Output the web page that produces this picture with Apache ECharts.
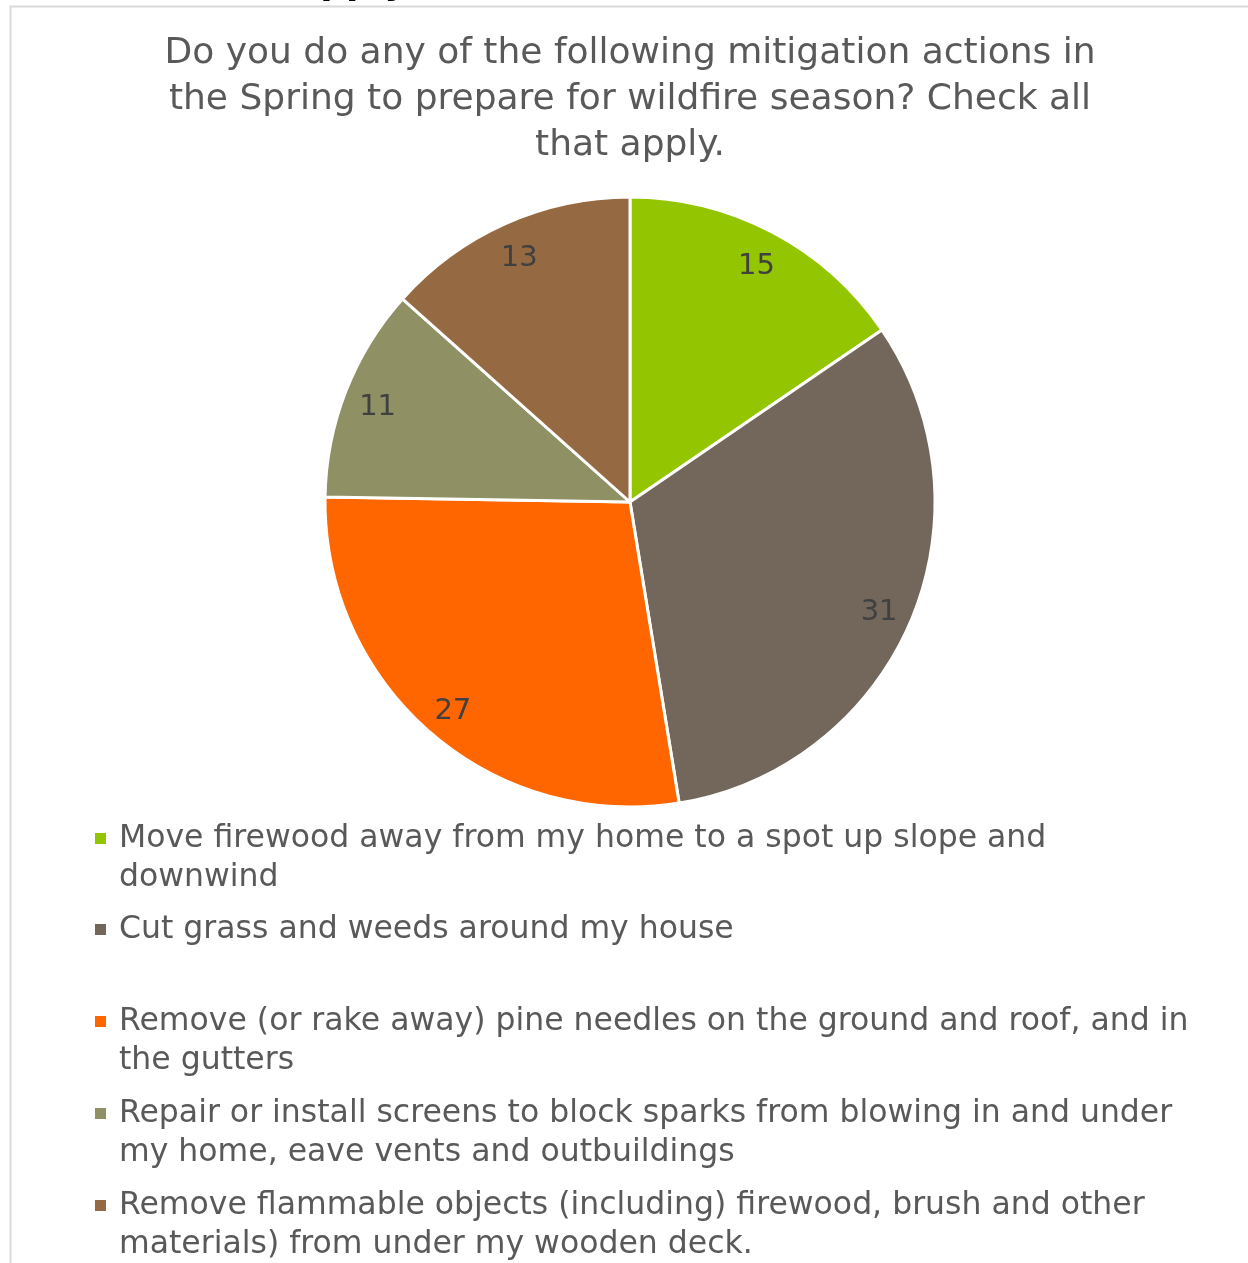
<!DOCTYPE html>
<html>
<head>
<meta charset="utf-8">
<script src="https://cdn.jsdelivr.net/npm/echarts@6/dist/echarts.min.js"></script>
<style>
  html, body { margin: 0; padding: 0; background: #fff; }
  #chart { width: 1248px; height: 1263px; }
</style>
</head>
<body>
<div id="chart"></div>
<script>
// chart data
const categories = [
  "Move firewood away from my home to a spot up slope and\ndownwind",
  "Cut grass and weeds around my house",
  "Remove (or rake away) pine needles on the ground and roof, and in\nthe gutters",
  "Repair or install screens to block sparks from blowing in and under\nmy home, eave vents and outbuildings",
  "Remove flammable objects (including) firewood, brush and other\nmaterials) from under my wooden deck."
];
const counts = [15, 31, 27, 11, 13];
const colors = ["#93c500", "#72675a", "#ff6600", "#8f9063", "#956a43"];

const titleText = "Do you do any of the following mitigation actions in\nthe Spring to prepare for wildfire season? Check all\nthat apply.";
const font = "DejaVu Sans";

const chart = echarts.init(document.getElementById("chart"));

const pieData = categories.map((name, i) => ({ name, value: counts[i] }));

// one legend block per item so they sit in evenly spaced slots
const lineH = 39;
const legendTops = [819, 910, 1002, 1094, 1186];
const legends = categories.map((name, i) => {
  const lines = name.split("\n").length;
  const h = lines * lineH;
  return {
    data: [name],
    orient: "vertical",
    left: 95,
    top: legendTops[i],
    padding: 0,
    itemWidth: 11,
    itemHeight: h,
    // square pinned to the first text line
    icon: "path://M0,0M0," + h + "M0,14h11v11h-11z",
    itemStyle: { borderWidth: 0 },
    itemGap: 0,
    selectedMode: false,
    textStyle: {
      fontFamily: font,
      fontSize: 31.5,
      color: "#595959",
      lineHeight: lineH,
      padding: [0, 0, 0, 8]
    }
  };
});

chart.setOption({
  animation: false,
  backgroundColor: "#fff",
  color: colors,
  title: {
    text: titleText,
    left: 625,
    textAlign: "center",
    top: 26,
    textStyle: {
      fontFamily: font,
      fontSize: 36,
      fontWeight: "normal",
      color: "#595959",
      lineHeight: 46
    }
  },
  legend: legends,
  graphic: [
    {
      type: "rect",
      shape: { x: 10.5, y: 6.5, width: 1400, height: 1400 },
      style: { fill: "none", stroke: "#d9d9d9", lineWidth: 2 },
      silent: true
    },
    {
      // tail of the slide heading above the chart, cut off by the frame
      type: "text",
      x: 418,
      y: 3,
      style: {
        text: "season? Check all that apply.",
        align: "right",
        verticalAlign: "bottom",
        fontFamily: font,
        fontSize: 36,
        fontWeight: "bold",
        fill: "#000"
      },
      silent: true
    }
  ],
  series: [
    {
      type: "pie",
      center: [630, 502],
      radius: [0, 305],
      startAngle: 90,
      clockwise: true,
      data: pieData,
      itemStyle: { borderColor: "#fff", borderWidth: 3 },
      label: { show: false },
      labelLine: { show: false },
      emphasis: { disabled: true }
    },
    {
      // label carrier: midpoint of this ring sits at ~0.87 of the pie radius
      type: "pie",
      center: [630, 502],
      radius: [0, 536],
      startAngle: 90,
      clockwise: true,
      silent: true,
      data: pieData,
      itemStyle: { color: "rgba(0,0,0,0)" },
      label: {
        show: true,
        position: "inner",
        formatter: "{c}",
        fontFamily: font,
        fontSize: 29,
        color: "#404040",
        offset: [0, 4]
      },
      labelLine: { show: false },
      emphasis: { disabled: true }
    }
  ]
});
</script>
</body>
</html>
